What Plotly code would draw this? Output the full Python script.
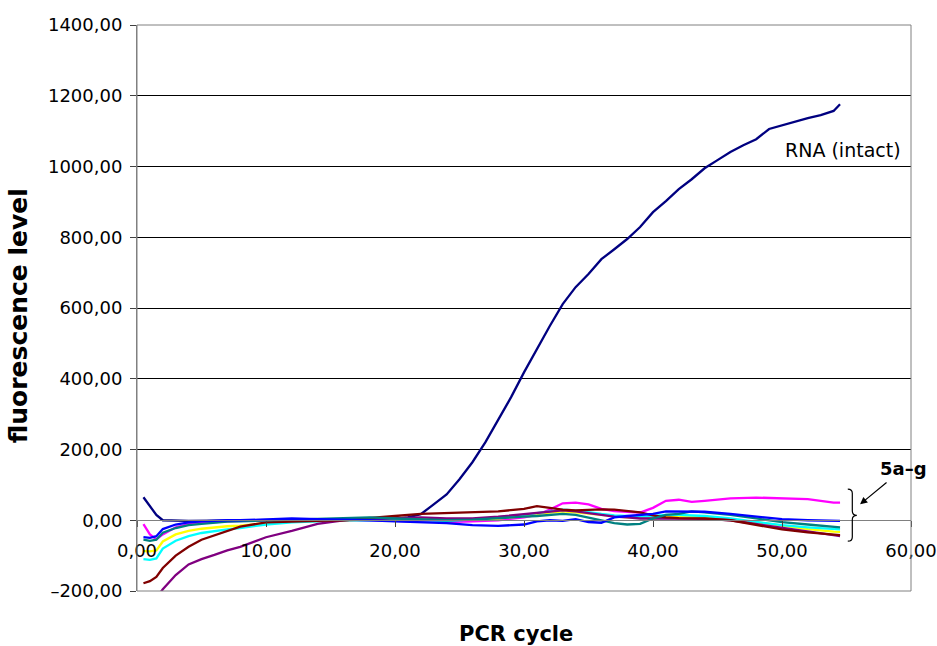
import plotly.graph_objects as go

# ---------------- data ----------------
rna_cycle = [0.5, 1, 1.5, 2, 3, 4, 6, 8, 10, 12, 14, 16, 18, 20, 21, 22, 23, 24, 25, 26,
             27, 28, 29, 30, 31, 32, 33, 34, 35, 36, 37, 38, 39, 40, 41, 42, 43, 44, 45,
             46, 47, 48, 49, 50, 51, 52, 53, 54, 54.5]
rna_intact = [65, 40, 15, 0, -2, -2, -1, 0, 0, 1, 2, 2, 3, 4, 8, 17, 45, 73, 116, 164,
              220, 285, 348, 418, 484, 549, 611, 659, 696, 738, 766, 795, 829, 871, 902,
              936, 964, 995, 1018, 1041, 1060, 1077, 1106, 1117, 1128, 1137, 1145, 1157, 1176]

cyc = [0.5, 1, 1.5, 2, 3, 4, 5, 6, 7, 8, 10, 12, 14, 16, 18, 20, 22, 24, 26, 28, 30, 31,
       32, 33, 34, 35, 36, 37, 38, 39, 40, 41, 42, 43, 44, 46, 48, 50, 52, 54, 54.5]

s_magenta = [-11, -40, -54, -40, -20, -11, -7, -4, -3, -2, 0, 0, 2, 2, 0, -2, -3, -5, -3, 0,
             8, 15, 30, 48, 50, 45, 32, 26, 24, 22, 35, 55, 58, 52, 55, 62, 64, 63, 60, 50, 50]
s_yellow = [-87, -88, -85, -60, -40, -30, -24, -20, -17, -15, -8, -4, -2, 0, 2, 3, 5, 3, 2, 5,
            12, 18, 22, 25, 22, 18, 15, 10, 8, 8, 5, 10, 12, 10, 8, 2, -5, -15, -25, -32, -33]
s_cyan = [-110, -112, -108, -80, -58, -45, -36, -30, -26, -22, -12, -6, -2, 0, 0, 2, 0, -2, 2, 8,
          15, 20, 25, 30, 28, 22, 18, 14, 12, 10, 12, 15, 15, 14, 12, 5, -5, -14, -20, -25, -26]
s_purple = [-260, -240, -220, -195, -155, -125, -110, -98, -85, -75, -48, -30, -10, 0, 2, 5, 8,
            5, 5, 10, 18, 22, 25, 28, 25, 20, 15, 10, 8, 5, 5, 5, 5, 5, 4, 0, -10, -22, -32, -42, -45]
s_maroon = [-178, -172, -160, -135, -100, -75, -55, -42, -30, -18, -6, -3, -2, 0, 5, 12, 18, 20,
            22, 25, 32, 40, 35, 30, 28, 30, 31, 30, 26, 22, 14, 8, 6, 5, 5, 0, -14, -26, -34, -40, -42]
s_teal = [-55, -58, -55, -35, -22, -14, -10, -6, -4, -3, 0, 3, 4, 6, 8, 5, 2, 0, 2, 5,
          10, 12, 15, 18, 15, 8, 0, -8, -12, -10, 5, 15, 18, 25, 22, 15, 5, -5, -12, -18, -20]
s_blue = [-48, -50, -45, -25, -12, -6, -3, -1, 0, 0, 2, 5, 3, 2, 0, -3, -5, -8, -14, -16,
          -12, -3, 0, -2, 3, -5, -7, 8, 12, 14, 18, 25, 24, 24, 24, 18, 10, 3, 0, -2, -2]

series_names = ["5a", "5b", "5c", "5d", "5e", "5f", "5g"]
series_values = [s_magenta, s_yellow, s_cyan, s_purple, s_maroon, s_teal, s_blue]
series_colors = ["#FF00FF", "#FFFF00", "#00FFFF", "#800080", "#800000", "#008080", "#0000FF"]

x_ticks = [0, 10, 20, 30, 40, 50, 60]
x_tick_labels = ["0,00", "10,00", "20,00", "30,00", "40,00", "50,00", "60,00"]
y_ticks = [-200, 0, 200, 400, 600, 800, 1000, 1200, 1400]
y_tick_labels = ["–200,00", "0,00", "200,00", "400,00", "600,00", "800,00",
                 "1000,00", "1200,00", "1400,00"]
grid_vals = [200, 400, 600, 800, 1000, 1200]

FONT = "DejaVu Sans"

fig = go.Figure()
fig.add_trace(go.Scatter(x=rna_cycle, y=rna_intact, mode="lines", name="RNA (intact)",
                         line=dict(color="#000080", width=2.3)))
for nm, vals, col in zip(series_names, series_values, series_colors):
    fig.add_trace(go.Scatter(x=cyc, y=vals, mode="lines", name=nm,
                             line=dict(color=col, width=2.3)))
# invisible trace for gridline-only axis
fig.add_trace(go.Scatter(x=[None], y=[None], yaxis="y2", showlegend=False, hoverinfo="skip"))

fig.update_layout(
    width=937, height=646,
    margin=dict(l=137, r=26, t=25, b=55, autoexpand=False),
    paper_bgcolor="white", plot_bgcolor="white",
    showlegend=False,
    font=dict(family=FONT, size=18, color="black"),
    xaxis=dict(range=[0, 60], tickvals=x_ticks, ticktext=x_tick_labels,
               showgrid=False, zeroline=False, showline=True, linecolor="#808080",
               linewidth=1, ticks="outside", ticklen=6, tickcolor="#404040",
               anchor="free", position=0.125, automargin=False, ticklabelstandoff=8,
               tickfont=dict(family=FONT, size=18)),
    yaxis=dict(range=[-200, 1400], tickvals=y_ticks, ticktext=y_tick_labels,
               showgrid=False, zeroline=False, showline=True, linecolor="#808080",
               linewidth=1, ticks="outside", ticklen=6, tickcolor="#404040",
               automargin=False, ticklabelstandoff=4,
               tickfont=dict(family=FONT, size=18)),
    yaxis2=dict(range=[-200, 1400], overlaying="y", tickvals=grid_vals, showgrid=True,
                gridcolor="black", gridwidth=1, showticklabels=False, ticks="",
                zeroline=False, showline=False, automargin=False, layer="below traces"),
)

fig.add_shape(type="rect", xref="paper", yref="paper", x0=0, x1=1, y0=0, y1=1,
              line=dict(color="#808080", width=1), layer="above")
# curly brace grouping 5a-g
fig.add_shape(type="path", xref="x", yref="y",
              path="M 55.1,88 Q 55.45,88 55.45,76 L 55.45,26 Q 55.45,14 55.8,14 "
                   "Q 55.45,14 55.45,2 L 55.45,-47 Q 55.45,-59 55.1,-59",
              line=dict(color="black", width=1.2))

fig.add_annotation(x=50.1, y=1046, xref="x", yref="y", text="RNA (intact)",
                   showarrow=False, xanchor="left", yanchor="middle",
                   font=dict(family=FONT, size=19))
fig.add_annotation(x=59.45, y=147, xref="x", yref="y", text="<b>5a–g</b>",
                   showarrow=False, xanchor="center", yanchor="middle",
                   font=dict(family=FONT, size=18))
fig.add_annotation(x=56.05, y=45, xref="x", yref="y", text="", showarrow=True,
                   ax=28, ay=-23, arrowhead=2, arrowsize=1.2, arrowwidth=1.2,
                   arrowcolor="black")
fig.add_annotation(x=-0.152, y=0.486, xref="paper", yref="paper",
                   text="<b>fluorescence level</b>", textangle=-90, showarrow=False,
                   xanchor="center", yanchor="middle", font=dict(family=FONT, size=25))
fig.add_annotation(x=0.49, y=-0.076, xref="paper", yref="paper",
                   text="<b>PCR cycle</b>", showarrow=False,
                   xanchor="center", yanchor="middle", font=dict(family=FONT, size=21))

fig.write_html("out.html", config={"displayModeBar": False},
               post_script="document.body.style.margin='0';")
